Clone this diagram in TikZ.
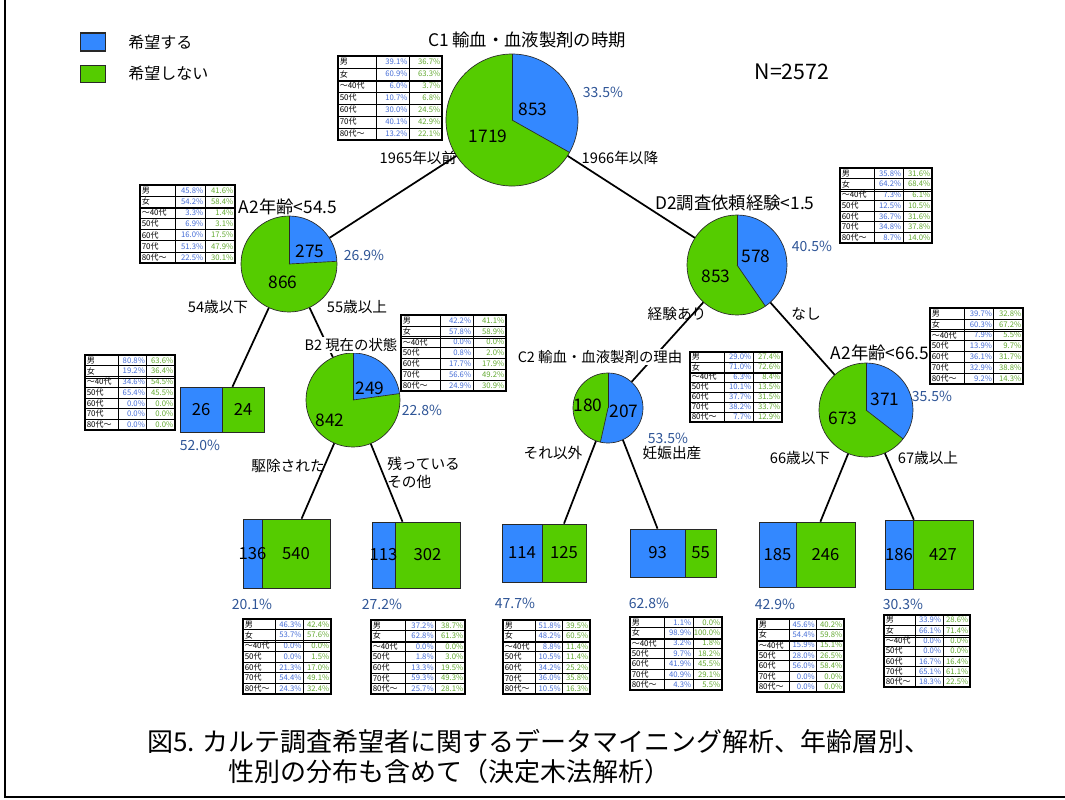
\documentclass[tikz,border=0pt]{standalone}
\usepackage{fontspec}
\setmainfont{Noto Sans CJK JP}
\usetikzlibrary{fit}
\definecolor{pieblue}{RGB}{51,136,255}
\definecolor{piegreen}{RGB}{85,204,0}
\definecolor{pctblue}{RGB}{47,85,151}
\definecolor{tblue}{RGB}{70,110,215}
\definecolor{tgreen}{RGB}{100,170,50}
\definecolor{boxline}{RGB}{40,40,40}
\newcommand\tlabel[1]{\ifcase#1\or 男\or 女\or 〜40代\or 50代\or 60代\or 70代\or 80代〜\fi}
\newcommand\pie[5]{%
  \node[circle, inner sep=0pt, minimum size={#4*1.5pt}] (#1) at (#2,-#3) {};
  \fill[pieblue] (#2,-#3) -- ++(90:#4) arc[start angle=90, end angle={90-360*#5}, radius=#4] -- cycle;
  \fill[piegreen] (#2,-#3) -- ++({90-360*#5}:#4) arc[start angle={90-360*#5}, end angle=-270, radius=#4] -- cycle;
  \draw[pieline] (#2,-#3) circle[radius=#4];
  \draw[pieline] (#2,-#3) -- ++(90:#4);
  \draw[pieline] (#2,-#3) -- ++({90-360*#5}:#4);
}
\newcommand\leaf[8]{%
  \node[fit={(#2,-#5)(#3,-#6)}, inner sep=0pt, draw=boxline, fill=pieblue, line width=0.6pt] (#1b) {};
  \node[fit={(#3,-#5)(#4,-#6)}, inner sep=0pt, draw=boxline, fill=piegreen, line width=0.6pt] (#1g) {};
  \node[fit={(#2,-#5)(#4,-#6)}, inner sep=0pt] (#1) {};
  \node[num] (#1bt) at (#1b.center) {#7};
  \node[num] (#1gt) at (#1g.center) {#8};
}
\newcommand\dtab[6]{%
  \pgfmathsetmacro\tx{#2}%
  \pgfmathsetmacro\tca{#2+0.37*#4}%
  \pgfmathsetmacro\tcb{#2+0.685*#4}%
  \pgfmathsetmacro\tcr{#2+#4}%
  \pgfmathsetmacro\trh{#5/7}%
  \fill[white] (\tx,-#3) rectangle (\tcr,-#3-#5);
  \foreach \bv/\gv [count=\i] in {#6} {
    \pgfmathsetmacro\ya{-(#3+(\i-1)*\trh)}
    \pgfmathsetmacro\yb{-(#3+\i*\trh)}
    \pgfmathsetmacro\ym{(\ya+\yb)/2}
    \draw[tline] (\tx,\yb) -- (\tcr,\yb);
    \node[tlab, anchor=west] (#1l\i) at (\tx+1.5,\ym) {\tlabel{\i}};
    \node[tnum, text=tblue, anchor=east] (#1b\i) at (\tcb-1.5,\ym) {\bv\%};
    \node[tnum, text=tgreen, anchor=east] (#1g\i) at (\tcr-1.5,\ym) {\gv\%};
  }
  \pgfmathsetmacro\yd{-(#3+2*\trh)}
  \draw[tline] (\tx,\yd-1.5) -- (\tcr,\yd-1.5);
  \draw[tline] (\tca,-#3) -- (\tca,-#3-#5);
  \draw[tline] (\tcb,-#3) -- (\tcb,-#3-#5);
  \draw[touter] (\tx,-#3) rectangle (\tcr,-#3-#5);
}
\begin{document}
\begin{tikzpicture}[x=0.75pt,y=0.75pt,
  pieline/.style={draw=boxline, line width=0.5pt},
  edge/.style={draw=black, line width=1.3pt},
  num/.style={inner sep=0pt, font=\fontsize{12.5}{14}\selectfont},
  pnum/.style={inner sep=0pt, font=\fontsize{13}{15}\selectfont},
  pct/.style={inner sep=0pt, text=pctblue, font=\fontsize{10.5}{12}\selectfont},
  lbl/.style={inner sep=0pt, font=\fontsize{11}{13}\selectfont},
  ttl/.style={inner sep=1pt, fill=white, font=\fontsize{10.8}{13}\selectfont},
  bigttl/.style={inner sep=1pt, font=\fontsize{13}{15}\selectfont},
  tline/.style={draw=black, line width=0.5pt},
  touter/.style={draw=black, line width=0.9pt},
  tlab/.style={inner sep=0pt, font=\fontsize{6}{7}\selectfont},
  tnum/.style={inner sep=0pt, font=\fontsize{5.8}{7}\selectfont},
  legbox/.style={draw=boxline, line width=0.8pt}
]
\useasboundingbox (0,0) rectangle (1065,-800);
\fill[white] (0,0) rectangle (1065,-800);
% frame
\draw[line width=1.2pt] (5,0) -- (5,-797) -- (1065,-797);
% legend
\node[legbox, fill=pieblue, minimum width=19pt, minimum height=13.5pt, inner sep=0pt] (lb) at (93,-42) {};
\node[legbox, fill=piegreen, minimum width=19pt, minimum height=13pt, inner sep=0pt] (lg) at (93,-74) {};
\node[lbl, anchor=west, font=\fontsize{12}{14}\selectfont] (lbt) at (128,-42) {希望する};
\node[lbl, anchor=west, font=\fontsize{12}{14}\selectfont] (lgt) at (128,-73) {希望しない};
\node[inner sep=0pt, font=\fontsize{16}{18}\selectfont] (n) at (792,-72) {N=2572};

% pies
\pie{root}{512}{120}{66}{0.3316}
\pie{a2}{289}{264}{48}{0.2410}
\pie{d2}{737}{265}{50}{0.4039}
\pie{b2}{353}{400}{47}{0.2282}
\pie{c2}{608}{408}{35}{0.5349}
\pie{a2b}{866}{410}{47}{0.3554}

% leaves
\leaf{leaf0}{180}{222}{264}{387}{432}{26}{24}
\leaf{leaf1}{243}{262}{330}{519}{588}{136}{540}
\leaf{leaf2}{372}{395}{460}{522}{588}{113}{302}
\leaf{leaf3}{502}{542}{586}{524}{582}{114}{125}
\leaf{leaf4}{630}{685}{716}{529}{577}{93}{55}
\leaf{leaf5}{759}{796}{855}{522}{587}{185}{246}
\leaf{leaf6}{885}{913}{973}{520}{589}{186}{427}

% connectors
\draw[edge] (root) -- (a2);
\draw[edge] (root) -- (d2);
\draw[edge] (a2) -- (leaf0);
\draw[edge] (a2) -- (b2);
\draw[edge] (b2) -- (leaf1);
\draw[edge] (b2) -- (leaf2);
\draw[edge] (d2) -- (c2);
\draw[edge] (d2) -- (a2b);
\draw[edge] (c2.-110) -- (leaf3g.north);
\draw[edge] (c2.-65) -- (leaf4b.north);
\draw[edge] (a2b) -- (leaf5);
\draw[edge] (a2b) -- (leaf6);

% pie numbers
\node[pnum] (r1) at (533,-109) {853};
\node[pnum] (r2) at (488,-136) {1719};
\node[pnum] (a21) at (310,-251) {275};
\node[pnum] (a22) at (283,-282) {866};
\node[pnum] (d21) at (756,-256) {578};
\node[pnum] (d22) at (716,-276) {853};
\node[pnum] (b21) at (370,-388) {249};
\node[pnum] (b22) at (330,-420) {842};
\node[pnum] (c21) at (588,-405) {180};
\node[pnum] (c22) at (624,-411) {207};
\node[pnum] (e1) at (885,-399) {371};
\node[pnum] (e2) at (843,-418) {673};

% percentages
\node[pct] (p0) at (603,-92) {33.5\%};
\node[pct] (p1) at (364,-255) {26.9\%};
\node[pct] (p2) at (812,-246) {40.5\%};
\node[pct] (p3) at (200,-445) {52.0\%};
\node[pct] (p4) at (422,-410) {22.8\%};
\node[pct] (p5) at (668,-438) {53.5\%};
\node[pct] (p6) at (932,-396) {35.5\%};
\node[pct] (p7) at (252,-604) {20.1\%};
\node[pct] (p8) at (382,-604) {27.2\%};
\node[pct] (p9) at (515,-603) {47.7\%};
\node[pct] (p10) at (649,-603) {62.8\%};
\node[pct] (p11) at (775,-604) {42.9\%};
\node[pct] (p12) at (903,-604) {30.3\%};

% edge labels
\node[lbl] (e01) at (418,-158) {1965年以前};
\node[lbl] (e02) at (620,-158) {1966年以降};
\node[lbl] (e11) at (218,-307) {54歳以下};
\node[lbl] (e12) at (357,-307) {55歳以上};
\node[lbl] (e21) at (677,-314) {経験あり};
\node[lbl] (e22) at (806,-314) {なし};
\node[lbl] (e31) at (288,-466) {駆除された};
\node[lbl, align=left, anchor=north west] (e32) at (387,-457) {残っている\\その他};
\node[lbl] (e41) at (553,-453) {それ以外};
\node[lbl] (e42) at (672,-453) {妊娠出産};
\node[lbl] (e51) at (800,-458) {66歳以下};
\node[lbl] (e52) at (928,-458) {67歳以上};

% tables
\dtab{tr}{338}{56}{104}{84}{39.1/36.7,60.9/63.3,6.0/3.7,10.7/6.8,30.0/24.5,40.1/42.9,13.2/22.1}
\dtab{ta}{140}{185}{95}{78}{45.8/41.6,54.2/58.4,3.3/1.4,6.9/3.1,16.0/17.5,51.3/47.9,22.5/30.1}
\dtab{td}{840}{168}{92}{75}{35.8/31.6,64.2/68.4,7.3/6.1,12.5/10.5,36.7/31.6,34.8/37.8,8.7/14.0}
\dtab{tl}{85}{355}{90}{75}{80.8/63.6,19.2/36.4,34.6/54.5,65.4/45.5,0.0/0.0,0.0/0.0,0.0/0.0}
\dtab{tb}{401}{315}{105}{76}{42.2/41.1,57.8/58.9,0.0/0.0,0.8/2.0,17.7/17.9,56.6/49.2,24.9/30.9}
\dtab{tc}{690}{352}{92}{70}{29.0/27.4,71.0/72.6,6.3/8.4,10.1/13.5,37.7/31.5,38.2/33.7,7.7/12.9}
\dtab{te}{930}{308}{93}{76}{39.7/32.8,60.3/67.2,7.9/5.5,13.9/9.7,36.1/31.7,32.9/38.8,9.2/14.3}
\dtab{t1}{243}{619}{88}{75}{46.3/42.4,53.7/57.6,0.0/0.0,0.0/1.5,21.3/17.0,54.4/49.1,24.3/32.4}
\dtab{t2}{371}{620}{94}{74}{37.2/38.7,62.8/61.3,0.0/0.0,1.8/3.0,13.3/19.5,59.3/49.3,25.7/28.1}
\dtab{t3}{503}{620}{87}{74}{51.8/39.5,48.2/60.5,8.8/11.4,10.5/11.4,34.2/25.2,36.0/35.8,10.5/16.3}
\dtab{t4}{630}{617}{92}{73}{1.1/0.0,98.9/100.0,3.2/1.8,9.7/18.2,41.9/45.5,40.9/29.1,4.3/5.5}
\dtab{t5}{757}{619}{87}{73}{45.6/40.2,54.4/59.8,15.9/15.1,28.0/26.5,56.0/58.4,0.0/0.0,0.0/0.0}
\dtab{t6}{884}{615}{86}{72}{33.9/28.6,66.1/71.4,0.0/0.0,0.0/0.0,16.7/16.4,65.1/61.1,18.3/22.5}

% titles
\node[bigttl] (t0) at (527,-40) {C1 輸血・血液製剤の時期};
\node[bigttl] (t1) at (288,-207) {A2年齢<54.5};
\node[bigttl] (t2) at (735,-203) {D2調査依頼経験<1.5};
\node[ttl] (t3) at (351,-345) {B2 現在の状態};
\node[ttl] (t4) at (600,-357) {C2 輸血・血液製剤の理由};
\node[bigttl] (t5) at (880,-353) {A2年齢<66.5};

% caption
\node[inner sep=0pt, anchor=west, font=\fontsize{19.5}{22}\selectfont] (cap1) at (147,-742) {図5. カルテ調査希望者に関するデータマイニング解析、年齢層別、};
\node[inner sep=0pt, anchor=west, font=\fontsize{19.5}{22}\selectfont] (cap2) at (228,-772) {性別の分布も含めて（決定木法解析）};
\end{tikzpicture}
\end{document}
